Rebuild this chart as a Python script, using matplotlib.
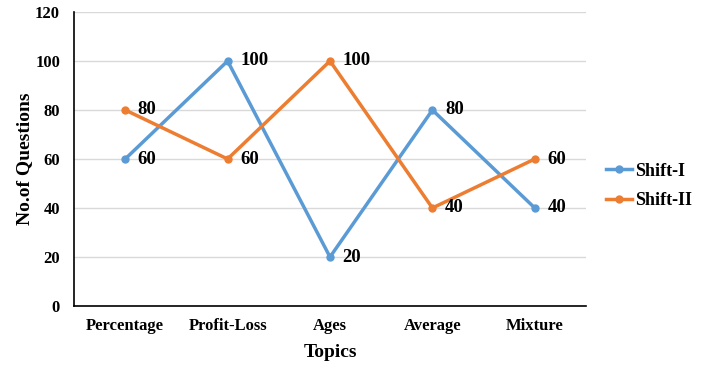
import matplotlib
matplotlib.use("Agg")
import matplotlib.pyplot as plt

topics = ["Percentage", "Profit-Loss", "Ages", "Average", "Mixture"]
shift1 = [60, 100, 20, 80, 40]
shift2 = [80, 60, 100, 40, 60]
yticks = [0, 20, 40, 60, 80, 100, 120]

plt.rcParams['font.family'] = ['Liberation Serif', 'DejaVu Serif']
plt.rcParams['font.weight'] = 'bold'

fig = plt.figure(figsize=(7.01, 3.67), dpi=100)
ax = fig.add_axes([74/701, (367-306)/367, (586-74)/701, (306-12)/367])

x = list(range(len(topics)))
blue = "#5B9BD5"
orange = "#ED7D31"
ax.plot(x, shift1, color=blue, lw=2.5, marker='o', ms=5, label="Shift-I", zorder=3)
ax.plot(x, shift2, color=orange, lw=2.5, marker='o', ms=5, label="Shift-II", zorder=3)

for xi, v in zip(x, shift1):
    ax.annotate(str(v), (xi, v), xytext=(9, 0), textcoords='offset points',
                va='center', ha='left', fontsize=13.5, fontweight='bold')
for xi, v in zip(x, shift2):
    ax.annotate(str(v), (xi, v), xytext=(9, 0), textcoords='offset points',
                va='center', ha='left', fontsize=13.5, fontweight='bold')

ax.set_xlim(-0.5, 4.5)
ax.set_ylim(0, 120)
ax.set_yticks(yticks)
ax.set_xticks(x)
ax.set_xticklabels(topics)
ax.tick_params(length=0, labelsize=12)
ax.tick_params(axis='y', pad=10)
ax.tick_params(axis='x', pad=9)
ax.grid(axis='y', color='#d9d9d9', lw=1)
ax.set_axisbelow(True)
for s in ['top', 'right']:
    ax.spines[s].set_visible(False)
for s in ['left', 'bottom']:
    ax.spines[s].set_color('black')
    ax.spines[s].set_linewidth(1.2)

ax.set_ylabel("No.of Questions", fontsize=14, fontweight='bold')
ax.yaxis.set_label_coords((33-74)/512, 0.5)
ax.set_xlabel("Topics", fontsize=14, fontweight='bold', labelpad=7)

ax.legend(loc='center left', bbox_to_anchor=(593/701, (367-186)/367), bbox_transform=fig.transFigure,
          frameon=False, fontsize=13, handlelength=1.45, handletextpad=0.2,
          labelspacing=0.7, borderpad=0.2)

fig.savefig("out.png", dpi=100)
